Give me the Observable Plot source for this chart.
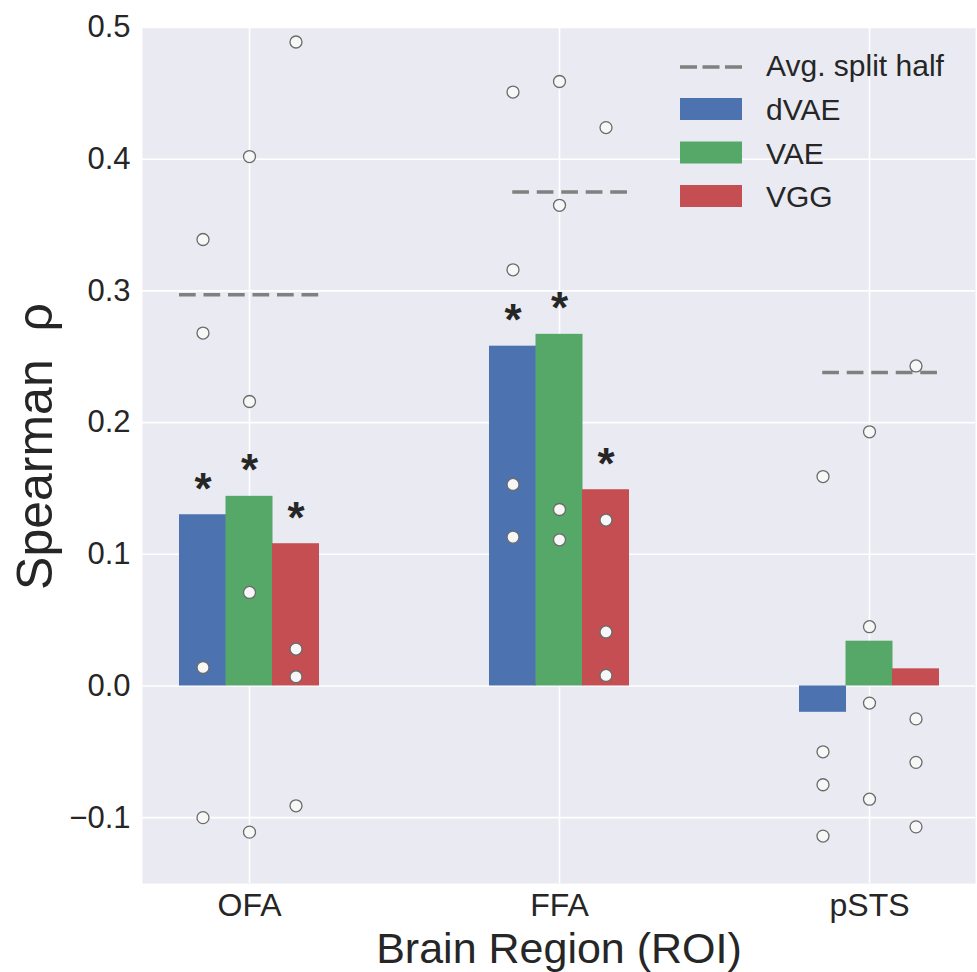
<!DOCTYPE html>
<html><head><meta charset="utf-8">
<script src="https://cdn.jsdelivr.net/npm/d3@7"></script>
<script src="https://cdn.jsdelivr.net/npm/@observablehq/plot@0.6"></script>
<style>
html,body{margin:0;padding:0;background:#fff;}
#wrap{position:relative;width:977px;height:972px;font-family:"Liberation Sans",Arial,sans-serif;color:#262626;}
#legend{position:absolute;left:0;top:0;pointer-events:none;}
</style></head><body><div id="wrap"></div>
<script>
// ---- data ----
const regions = ["OFA", "FFA", "pSTS"];
const models = ["dVAE", "VAE", "VGG"];
const modelColors = ["#4C72B0", "#55A868", "#C44E52"];
const meanDVAE = [0.130, 0.258, -0.020];
const meanVAE  = [0.144, 0.267, 0.034];
const meanVGG  = [0.108, 0.149, 0.013];
const sigDVAE = [true, true, false];
const sigVAE  = [true, true, false];
const sigVGG  = [true, true, false];
const subjDVAE = [[0.339, 0.268, 0.014, -0.100], [0.451, 0.316, 0.153, 0.113], [0.159, -0.050, -0.075, -0.114]];
const subjVAE  = [[0.402, 0.216, 0.071, -0.111], [0.459, 0.365, 0.134, 0.111], [0.193, 0.045, -0.013, -0.086]];
const subjVGG  = [[0.489, 0.028, 0.007, -0.091], [0.424, 0.126, 0.041, 0.008], [0.243, -0.025, -0.058, -0.107]];
const splitHalf = [0.297, 0.375, 0.238];
const yTicks = [-0.1, 0, 0.1, 0.2, 0.3, 0.4, 0.5];
const legendLabels = ["Avg. split half", "dVAE", "VAE", "VGG"];

// ---- tables ----
const means = [meanDVAE, meanVAE, meanVGG];
const sigs = [sigDVAE, sigVAE, sigVGG];
const subjs = [subjDVAE, subjVAE, subjVGG];
const bars = models.flatMap((m, i) => regions.map((r, j) => ({region: r, model: m, value: means[i][j], sig: sigs[i][j]})));
const subjects = models.flatMap((m, i) => regions.flatMap((r, j) => subjs[i][j].map(v => ({region: r, model: m, value: v}))));
const split = regions.map((r, j) => ({region: r, value: splitHalf[j]}));

const sub = 46.5; // width of one model's bar within a region band
const ink = "#262626";
const font = "'Liberation Sans', Arial, sans-serif";

const marks = [
  Plot.frame({fill: "#EAEAF2"}),
  Plot.gridY({ticks: yTicks, stroke: "#fff", strokeOpacity: 1, strokeWidth: 1.6}),
  Plot.gridX({stroke: "#fff", strokeOpacity: 1, strokeWidth: 1.6}),
  Plot.axisY({ticks: yTicks, tickSize: 0, tickPadding: 12, fontSize: 31, tickFormat: d3.format(".1f"), label: null}),
  Plot.axisX({tickSize: 0, tickPadding: 10, fontSize: 32, label: null})
];
models.forEach((m, i) => {
  marks.push(Plot.barY(bars.filter(d => d.model === m), {
    x: "region", y: "value", fill: "model", insetLeft: i * sub, insetRight: (2 - i) * sub
  }));
});
marks.push(Plot.tickY(split.filter(d => d.region === "OFA"), {
  x: "region", y: "value", stroke: "#808080", strokeWidth: 3.5, strokeDasharray: "16.7,7.8"
}));
marks.push(Plot.tickY(split.filter(d => d.region !== "OFA"), {
  x: "region", y: "value", stroke: "#808080", strokeWidth: 3.5, strokeDasharray: "16.7,7.8",
  insetLeft: sub / 2, insetRight: 1
}));
models.forEach((m, i) => {
  marks.push(Plot.dot(subjects.filter(d => d.model === m), {
    x: "region", y: "value", dx: (i - 1) * sub, r: 6, fill: "#f7f7f7", stroke: "#6b6b6b", strokeWidth: 1.3
  }));
  marks.push(Plot.text(bars.filter(d => d.model === m && d.sig), {
    x: "region", y: "value", text: () => "*", dx: (i - 1) * sub, dy: -25,
    fontSize: 44, fontWeight: "bold", fill: ink
  }));
});
marks.push(Plot.text(["Spearman\u00A0 ρ"], {
  text: d => d, frameAnchor: "left", textAnchor: "middle", rotate: -90, dx: -91, dy: -9,
  lineAnchor: "bottom", fontSize: 50, fill: ink
}));
marks.push(Plot.text(["Brain Region (ROI)"], {
  text: d => d, frameAnchor: "bottom", textAnchor: "middle", dy: 79.5, lineAnchor: "bottom", fontSize: 43, fill: ink
}));

const chart = Plot.plot({
  width: 977, height: 972,
  marginTop: 27, marginBottom: 89, marginLeft: 142, marginRight: 2,
  style: {fontFamily: font, color: ink, background: "#fff"},
  x: {domain: regions, paddingInner: 0.55, paddingOuter: 0.1185},
  y: {domain: [-0.15, 0.5]},
  color: {domain: models, range: modelColors},
  marks
});
const wrap = document.getElementById("wrap");
wrap.appendChild(chart);

// ---- legend (inside the plot area, top right) ----
const ns = "http://www.w3.org/2000/svg";
const lg = document.createElementNS(ns, "svg");
lg.setAttribute("id", "legend");
lg.setAttribute("width", 977); lg.setAttribute("height", 972);
const baselines = [76, 120, 163.5, 207];
legendLabels.forEach((lab, k) => {
  if (k === 0) {
    const l = document.createElementNS(ns, "line");
    l.setAttribute("x1", 680); l.setAttribute("x2", 742);
    l.setAttribute("y1", baselines[0] - 9); l.setAttribute("y2", baselines[0] - 9);
    l.setAttribute("stroke", "#808080"); l.setAttribute("stroke-width", 3.5);
    l.setAttribute("stroke-dasharray", "17,5.5");
    lg.appendChild(l);
  } else {
    const rc = document.createElementNS(ns, "rect");
    rc.setAttribute("x", 680); rc.setAttribute("y", baselines[k] - 22);
    rc.setAttribute("width", 62); rc.setAttribute("height", 22);
    rc.setAttribute("fill", modelColors[k - 1]);
    lg.appendChild(rc);
  }
  const t = document.createElementNS(ns, "text");
  t.setAttribute("x", 766); t.setAttribute("y", baselines[k]);
  t.setAttribute("font-size", 30); t.setAttribute("font-family", font);
  t.setAttribute("fill", ink);
  t.textContent = lab;
  lg.appendChild(t);
});
wrap.appendChild(lg);
</script></body></html>
